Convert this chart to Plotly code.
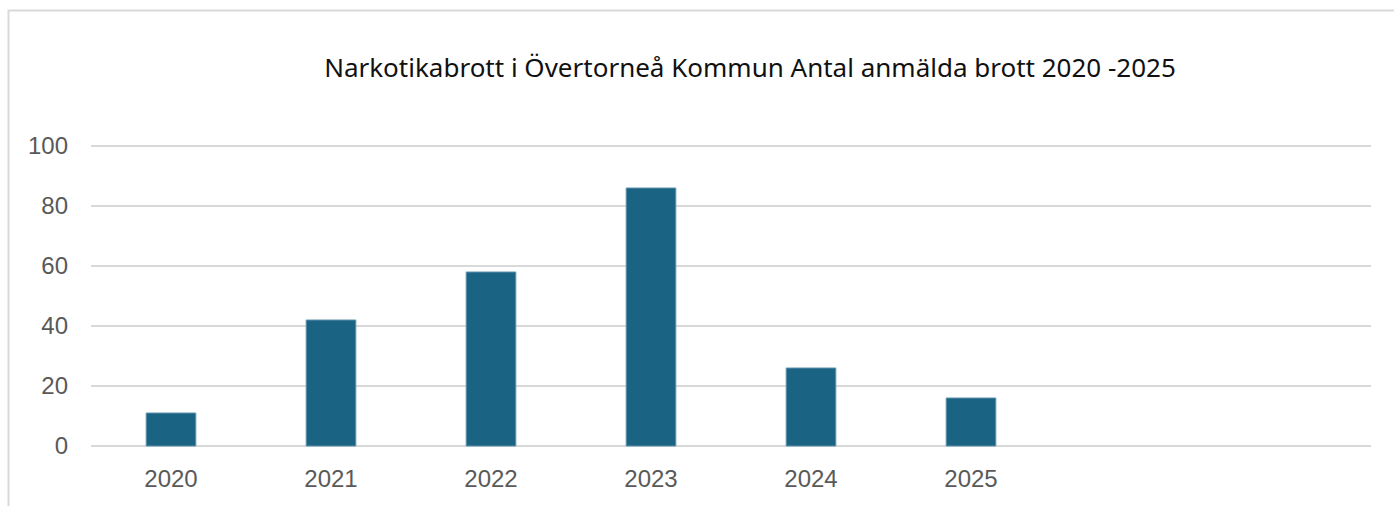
import plotly.graph_objects as go

years = ["2020", "2021", "2022", "2023", "2024", "2025"]
counts = [11, 42, 58, 86, 26, 16]
y_ticks = [0, 20, 40, 60, 80, 100]
title_text = "Narkotikabrott i Övertorneå Kommun Antal anmälda brott 2020 -2025"

W, H = 1394, 506
L, R, T, B = 91, 23, 143, 57
pw, ph = W - L - R, H - T - B

fig = go.Figure()
fig.add_trace(go.Bar(
    x=years, y=counts,
    marker=dict(color="#1A6382", line=dict(color="#5E93AC", width=1)),
    width=0.31,
    hoverinfo="x+y",
))

def px_x(v):
    return (v - L) / pw

def px_y(v):
    return (H - B - v) / ph

fig.update_layout(
    width=W, height=H,
    margin=dict(l=L, r=R, t=T, b=B, autoexpand=False),
    paper_bgcolor="white", plot_bgcolor="white",
    showlegend=False,
    title=dict(text=title_text, x=750 / W, xanchor="center", y=1 - 68 / H, yanchor="middle",
               font=dict(family="Noto Sans", size=26, color="#111111")),
    xaxis=dict(type="category", categoryorder="array", categoryarray=years,
               range=[-0.5, 7.5], showgrid=False, showline=False, zeroline=False,
               ticks="", tickfont=dict(family="Liberation Sans, Arial", size=24, color="#595959"),
               ticklabelstandoff=13),
    yaxis=dict(range=[-1, 101], tickvals=y_ticks, showgrid=True, gridcolor="#D9D9D9", gridwidth=2,
               zeroline=False, showline=False, ticks="",
               tickfont=dict(family="Liberation Sans, Arial", size=24, color="#595959"),
               ticklabelstandoff=22),
    shapes=[dict(type="rect", xref="paper", yref="paper",
                 x0=px_x(8.5), x1=px_x(1400), y0=px_y(515), y1=px_y(10.5),
                 line=dict(color="#D9D9D9", width=2), fillcolor="rgba(0,0,0,0)", layer="below")],
)

fig.write_html("out.html", config={"displayModeBar": False},
               post_script="document.body.style.margin='0';document.body.style.padding='0';")
